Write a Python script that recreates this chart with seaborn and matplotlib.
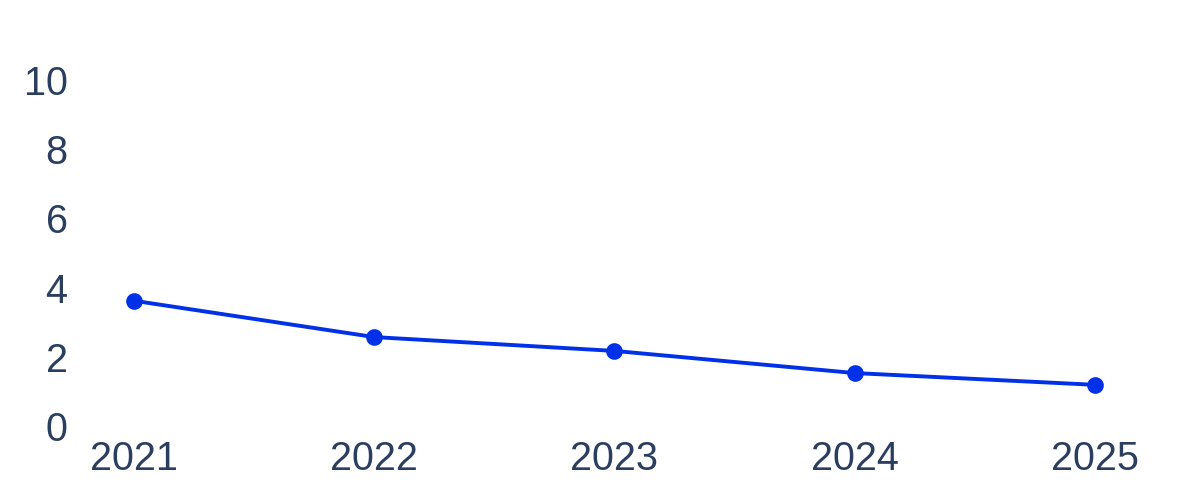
import matplotlib
matplotlib.use("Agg")
import matplotlib.pyplot as plt
import seaborn as sns
import pandas as pd

years = [2021, 2022, 2023, 2024, 2025]
values = [3.62, 2.57, 2.17, 1.53, 1.19]
y_ticks = [0, 2, 4, 6, 8, 10]

sns.set_theme(style="white")
plt.rcParams['font.family'] = ['Liberation Sans', 'DejaVu Sans']

W, H = 1200, 500
fig = plt.figure(figsize=(W / 100, H / 100), dpi=100)
left_px, right_px = 80, 1140
bottom_px, top_px = 426, 40
ax = fig.add_axes([left_px / W, (H - bottom_px) / H, (right_px - left_px) / W, (bottom_px - top_px) / H])

df = pd.DataFrame({"year": years, "value": values})
color = "#0030e8"
sns.lineplot(data=df, x="year", y="value", ax=ax, color=color, linewidth=2.8,
             marker="o", markersize=12, markeredgewidth=0, clip_on=False)

px_per_year = (1095 - 134) / 4
ax.set_xlim(2021 - (134 - left_px) / px_per_year, 2025 + (right_px - 1095) / px_per_year)
px_per_unit = (426 - 80) / 10
ax.set_ylim(0, (bottom_px - top_px) / px_per_unit)

ax.set_xticks(years)
ax.set_xticklabels([str(y) for y in years])
ax.set_yticks(y_ticks)
ax.set_yticklabels([str(t) for t in y_ticks])
ax.tick_params(axis="both", labelsize=28.5, colors="#2a3f5f", length=0)
ax.tick_params(axis="y", pad=9)
ax.tick_params(axis="x", pad=10)
ax.set_xlabel("")
ax.set_ylabel("")
for s in ax.spines.values():
    s.set_visible(False)
ax.grid(False)

fig.savefig("out.png", dpi=100, facecolor="white")
